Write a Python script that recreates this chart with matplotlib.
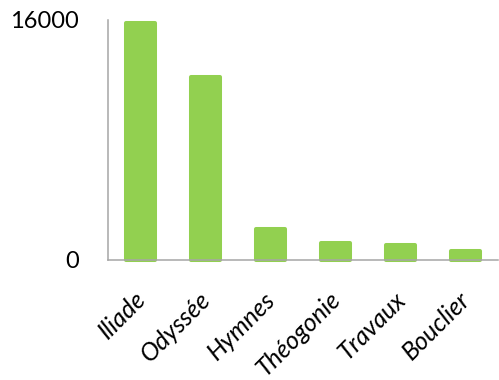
import matplotlib
matplotlib.use("Agg")
import matplotlib.pyplot as plt
from matplotlib.transforms import ScaledTranslation

categories = ["Iliade", "Odyssée", "Hymnes", "Théogonie", "Travaux", "Bouclier"]
values = [15780, 12180, 2040, 1110, 980, 580]
yticks = [0, 16000]

plt.rcParams['font.family'] = ['Lato', 'DejaVu Sans']

fig = plt.figure(figsize=(4.99, 3.80), dpi=100)
ax = fig.add_axes([108/499, 120/380, 390/499, 240/380])

green = "#92D050"
x = list(range(len(categories)))
bars = ax.bar(x, values, width=0.45, color=green, edgecolor=green, linewidth=2.9,
              joinstyle='round', zorder=1)
for b in bars:
    b.set_clip_on(False)

ax.set_xlim(-0.5, len(categories) - 0.5)
ax.set_ylim(0, 16000)
ax.set_yticks(yticks)
ax.set_yticklabels([str(v) for v in yticks], fontsize=17)
ax.set_xticks(x)
ax.set_xticklabels(categories, fontsize=18, style='italic', rotation=45,
                   ha='right', rotation_mode='anchor')
ax.tick_params(axis='y', length=0, pad=21)
ax.tick_params(axis='x', length=0, pad=14)
offset = ScaledTranslation(-0.07, -0.08, fig.dpi_scale_trans)
for lab in ax.get_xticklabels():
    lab.set_transform(lab.get_transform() + offset)

for s in ['top', 'right']:
    ax.spines[s].set_visible(False)
for s in ['left', 'bottom']:
    ax.spines[s].set_color('#A6A6A6')
    ax.spines[s].set_linewidth(1.1)
    ax.spines[s].set_zorder(3)

fig.savefig("out.png", dpi=100)
